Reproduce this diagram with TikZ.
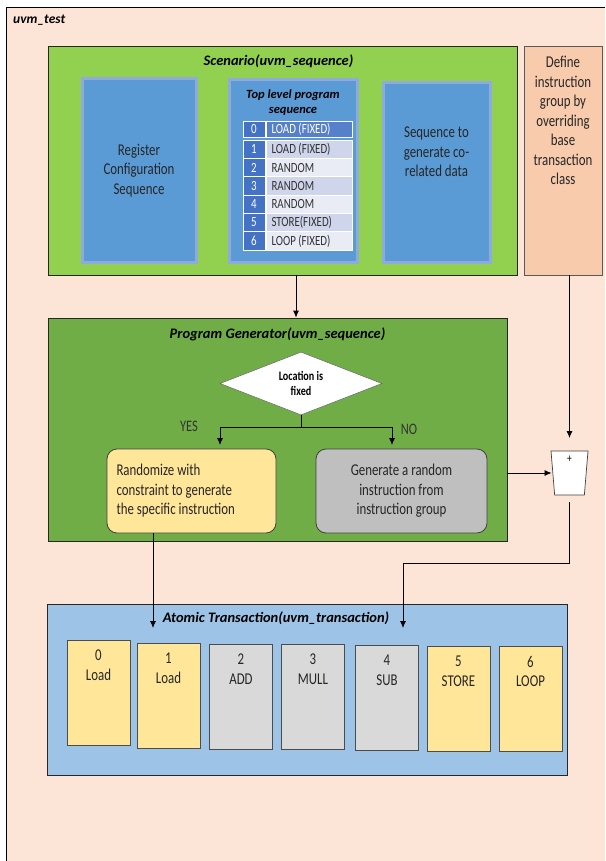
\documentclass[tikz,border=0pt]{standalone}
\usepackage{fontspec}
\setmainfont{Carlito}[FakeStretch=0.78]
\newfontfamily\headfont{Carlito}
\usetikzlibrary{arrows.meta,shapes.geometric,shadows,positioning}

\definecolor{testpeach}{RGB}{252,228,214}
\definecolor{scengreen}{RGB}{146,208,80}
\definecolor{gengreen}{RGB}{112,173,71}
\definecolor{seqblue}{RGB}{91,155,213}
\definecolor{seqedge}{RGB}{143,170,220}
\definecolor{tabdark}{RGB}{68,114,196}
\definecolor{rowa}{RGB}{207,213,234}
\definecolor{rowb}{RGB}{233,235,245}
\definecolor{defpeach}{RGB}{248,203,173}
\definecolor{randyellow}{RGB}{255,230,153}
\definecolor{grpgray}{RGB}{191,191,191}
\definecolor{atomblue}{RGB}{157,195,230}
\definecolor{opgray}{RGB}{217,217,217}

\tikzset{
  cont/.style={draw=black!85, line width=0.8pt, inner sep=0pt},
  title/.style={font=\headfont\fontsize{14.5}{18}\selectfont\bfseries\itshape, inner sep=0pt},
  body/.style={font=\fontsize{16.5}{19.5}\selectfont, text=black!85},
  seqbox/.style={body, fill=seqblue, draw=seqedge, line width=3pt, inner sep=0pt,
    drop shadow={opacity=0.35, shadow xshift=1.5pt, shadow yshift=-1.5pt}},
  cell/.style={draw=white, line width=0.8pt, inner sep=0pt, minimum height=18.3pt,
    font=\fontsize{14}{15}\selectfont},
  flowbox/.style={body, draw=black!75, line width=0.8pt, rounded corners=10pt,
    minimum width=169pt, minimum height=84pt, inner sep=0pt},
  opbox/.style={draw=black!70, line width=0.9pt, minimum width=63pt, minimum height=105pt,
    inner sep=0pt},
  arr/.style={-{Latex[length=7pt,width=6pt]}, line width=0.8pt}
}

\begin{document}
\begin{tikzpicture}[x=1pt, y=-1pt]
\useasboundingbox (0,0) rectangle (605,861);

% uvm_test frame
\fill[testpeach] (6,7) rectangle (605,861);
\draw[line width=0.8pt] (6,861) -- (6,7) -- (605,7);
\node[title, anchor=west, font=\headfont\fontsize{13.5}{16}\selectfont\bfseries\itshape] (test) at (13,20) {uvm\_test};

% Scenario(uvm_sequence)
\node[cont, fill=scengreen, minimum width=469pt, minimum height=229pt,
  label={[title, anchor=north, yshift=-9pt, xshift=-4pt]north:Scenario(uvm\_sequence)}] (scen) at (282.5,160.5) {};

\node[seqbox, minimum width=114pt, minimum height=183pt, align=center] (reg) at (139,170.5)
  {Register\\Configuration\\Sequence};
\node[seqbox, minimum width=128pt, minimum height=182pt,
  label={[title, anchor=north, yshift=-11pt, align=center, font=\headfont\fontsize{12.5}{15}\selectfont\bfseries\itshape]north:Top level program\\sequence}] (tops) at (293,171) {};
\node[seqbox, minimum width=107pt, minimum height=179pt,
  label={[body, anchor=north, yshift=-42pt, align=center]north:Sequence to\\generate co-\\related data}] (corr) at (436.5,172.5) {};

% top level program table
\node[cell, fill=tabdark, text=white, minimum width=22pt, minimum height=16pt] (idx0) at (254,129) {0};
\node[cell, fill=tabdark!90, text=white, minimum width=86pt, minimum height=16pt,
  text width=75pt, align=flush left] (ent0) at (309,129) {LOAD (FIXED)};
\foreach \i/\txt/\c [evaluate=\i as \ry using 149.2+18.33*(\i-1)] in
  {1/LOAD (FIXED)/rowa, 2/RANDOM/rowb, 3/RANDOM/rowa, 4/RANDOM/rowb,
   5/STORE(FIXED)/rowa, 6/LOOP (FIXED)/rowb} {
  \node[cell, fill=tabdark, text=white, minimum width=22pt] (idx\i) at (254,\ry) {\i};
  \node[cell, fill=\c, text=black!80, minimum width=86pt, text width=75pt, align=flush left] (ent\i) at (309,\ry) {\txt};
}

% instruction group definition
\node[cont, draw=black!65, fill=defpeach, minimum width=78pt, minimum height=229pt,
  label={[body, anchor=north, yshift=-7pt, align=center]north:Define\\instruction\\group by\\overriding\\base\\transaction\\class}] (def) at (563,160.5) {};

% Program Generator(uvm_sequence)
\node[cont, fill=gengreen, minimum width=459pt, minimum height=223pt,
  label={[title, anchor=north, yshift=-10pt]north:Program Generator(uvm\_sequence)}] (pg) at (277.5,429.5) {};
\node[diamond, fill=white, draw=black!60, line width=0.5pt, inner sep=0pt, aspect=2.6,
  minimum width=162pt, minimum height=63pt, align=center,
  font=\fontsize{13}{15}\selectfont\bfseries] (dec) at (301,383.5) {Location is\\fixed};

\node[flowbox, fill=randyellow, text width=150pt, align=flush left] (rnd) at (191.5,491)
  {Randomize with\\constraint to generate\\the specific instruction};
\node[flowbox, fill=grpgray, minimum width=171pt, align=center] (grp) at (401.5,491)
  {Generate a random\\instruction from\\instruction group};

\node[body, font=\fontsize{16}{18}\selectfont, text=black!80] (yeslbl) at (189,426) {YES};
\node[body, font=\fontsize{16}{18}\selectfont, text=black!80] (nolbl) at (409,429) {NO};

% adder
\node[trapezium, trapezium stretches=true, shape border rotate=180, trapezium angle=83,
  minimum width=37pt, minimum height=44pt, fill=white, draw=black!75, line width=0.7pt,
  label={[inner sep=0pt, yshift=-12pt, font=\fontsize{12}{12}\selectfont]north:+}] (mux) at (569.5,473) {};

% Atomic Transaction(uvm_transaction)
\node[cont, fill=atomblue, minimum width=520pt, minimum height=171pt,
  label={[title, anchor=north, yshift=-8pt, xshift=-31pt]north:Atomic Transaction(uvm\_transaction)}] (atom) at (307,689.5) {};
\foreach \i/\px/\py/\op/\c in {0/98.5/692.5/Load/randyellow, 1/168.5/695.5/Load/randyellow,
  2/241/696.5/ADD/opgray, 3/313/696.5/MULL/opgray, 4/387/697.5/SUB/opgray,
  5/458.5/698.5/STORE/randyellow, 6/530.5/698.5/LOOP/randyellow} {
  \node[opbox, fill=\c, label={[body, anchor=north, yshift=-7pt, align=center]north:\i\\\op}] (op\i) at (\px,\py) {};
}

% connectors
\coordinate (seqx) at (296,0);
\coordinate (fork) at (301,427);
\coordinate (yes) at (220,445);
\coordinate (no) at (392,445);
\coordinate (bend) at (569.5,563);
\coordinate (tipA) at (153,628);
\coordinate (tipB) at (403,628);

\draw[arr] (scen.south -| seqx) -- (pg.north -| seqx);
\draw[line width=0.8pt] (dec.south) -- (fork);
\draw[arr] (fork) -| (yes);
\draw[arr] (fork) -| (no);
\draw[arr] (pg.east |- mux.center) -- ([xshift=-18pt]mux.center);
\draw[arr] (def.south -| mux.center) -- ([yshift=35pt]mux.center);
\draw[arr] ([yshift=-29pt]mux.center) -- (bend) -| (tipB);
\draw[arr] (tipA |- rnd.south) -- (tipA);

\end{tikzpicture}
\end{document}
